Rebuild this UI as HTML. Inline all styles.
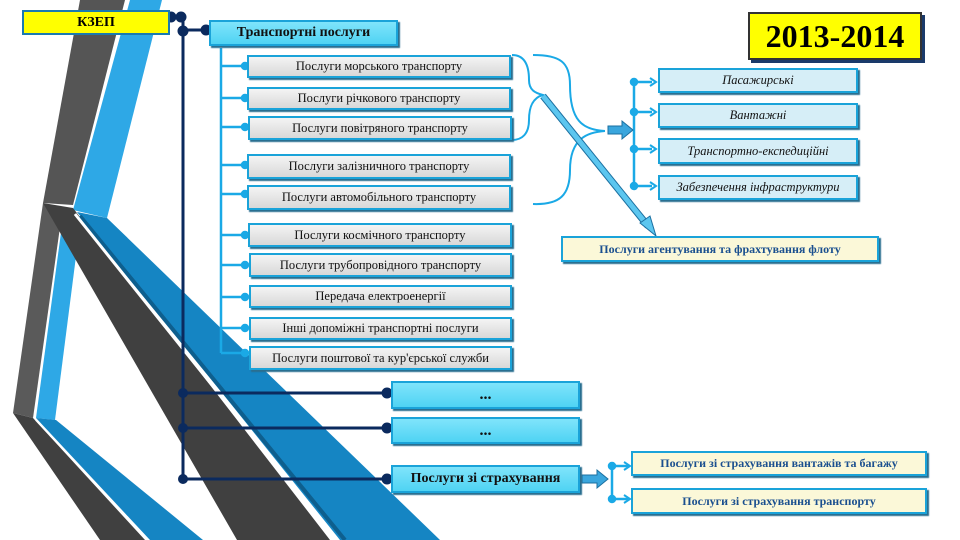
<!DOCTYPE html>
<html><head><meta charset="utf-8">
<style>
body{margin:0;width:960px;height:540px;overflow:hidden;background:#fff;font-family:"Liberation Serif",serif;}
.b{position:absolute;box-sizing:border-box;display:flex;align-items:center;justify-content:center;white-space:nowrap;}
.g{background:linear-gradient(#f4f4f4,#d8d8d8);border:2px solid #1aa3d9;box-shadow:2px 2px 1px #2a6f90;font-size:12.5px;color:#111;}
.c{background:linear-gradient(#7fe4fb,#4fd3f3);border:2px solid #1aa3d9;box-shadow:2px 2px 1px #2a6f90;font-weight:bold;color:#111;}
.l{background:#d6eef7;border:2px solid #1aa3d9;box-shadow:2px 2px 1px #2a6f90;font-style:italic;font-size:12.5px;color:#111;}
.y{background:#fbf8d8;border:2px solid #1aa3d9;box-shadow:2px 2px 1px #2a6f90;font-weight:bold;font-size:12px;color:#1a4f8f;}
</style></head><body>
<svg width="960" height="540" style="position:absolute;left:0;top:0">
<polygon points="80,0 125,0 73,205 43,203" fill="#555"/>
<polygon points="130,0 162,0 107,218 73,210" fill="#2ea8e6"/>
<polygon points="43,203 62,213 33,418 13,413" fill="#5a5a5a"/>
<polygon points="62,225 80,225 55,420 36,418" fill="#2ea8e6"/>
<polygon points="13,413 33,418 145,540 100,540" fill="#404040"/>
<polygon points="36,418 56,420 203,540 150,540" fill="#1585c3"/>
<polygon points="43,203 73,208 330,540 237,540" fill="#404040"/>
<polygon points="77,212 107,218 440,540 340,540" fill="#1585c3"/>
<line x1="80" y1="216" x2="345" y2="540" stroke="#0e5f8e" stroke-width="4"/>
<line x1="75" y1="214" x2="336" y2="540" stroke="#fff" stroke-width="3"/>
<line x1="36" y1="420" x2="148" y2="540" stroke="#fff" stroke-width="2"/>
<g stroke="#0b2a5e" stroke-width="3" fill="#0b2a5e">
<line x1="170" y1="17" x2="183" y2="17"/>
<line x1="183" y1="17" x2="183" y2="479"/>
<line x1="183" y1="30" x2="207" y2="30"/>
<line x1="183" y1="393" x2="390" y2="393"/>
<line x1="183" y1="428" x2="390" y2="428"/>
<line x1="183" y1="479" x2="390" y2="479"/>
<circle cx="171" cy="17" r="4"/><circle cx="181" cy="17" r="4"/>
<circle cx="183" cy="31" r="4"/><circle cx="206" cy="30" r="4"/>
<circle cx="183" cy="393" r="3.5"/><circle cx="387" cy="393" r="4"/>
<circle cx="183" cy="428" r="3.5"/><circle cx="387" cy="428" r="4"/>
<circle cx="183" cy="479" r="3.5"/><circle cx="387" cy="479" r="4"/>
</g>
<g stroke="#1aa9e6" stroke-width="2.5" fill="#1aa9e6">
<line x1="221" y1="48" x2="221" y2="353"/>
<line x1="221" y1="66" x2="246" y2="66"/><circle cx="245" cy="66" r="3"/>
<line x1="221" y1="98" x2="246" y2="98"/><circle cx="245" cy="98" r="3"/>
<line x1="221" y1="127" x2="246" y2="127"/><circle cx="245" cy="127" r="3"/>
<line x1="221" y1="165" x2="246" y2="165"/><circle cx="245" cy="165" r="3"/>
<line x1="221" y1="194" x2="246" y2="194"/><circle cx="245" cy="194" r="3"/>
<line x1="221" y1="235" x2="246" y2="235"/><circle cx="245" cy="235" r="3"/>
<line x1="221" y1="265" x2="246" y2="265"/><circle cx="245" cy="265" r="3"/>
<line x1="221" y1="297" x2="246" y2="297"/><circle cx="245" cy="297" r="3"/>
<line x1="221" y1="328" x2="246" y2="328"/><circle cx="245" cy="328" r="3"/>
<line x1="221" y1="353" x2="246" y2="353"/><circle cx="245" cy="353" r="3"/>
<line x1="634" y1="78" x2="634" y2="187"/>
<line x1="634" y1="82" x2="652" y2="82"/><circle cx="634" cy="82" r="3"/>
<line x1="634" y1="112" x2="652" y2="112"/><circle cx="634" cy="112" r="3"/>
<line x1="634" y1="149" x2="652" y2="149"/><circle cx="634" cy="149" r="3"/>
<line x1="634" y1="186" x2="652" y2="186"/><circle cx="634" cy="186" r="3"/>
<line x1="612" y1="466" x2="612" y2="499"/>
<line x1="612" y1="466" x2="628" y2="466"/><circle cx="612" cy="466" r="3"/>
<line x1="612" y1="499" x2="628" y2="499"/><circle cx="612" cy="499" r="3"/>
</g>
<g fill="none" stroke="#1aa9e6" stroke-width="2">
<polyline points="650,78 656,82 650,86"/><polyline points="650,108 656,112 650,116"/>
<polyline points="650,145 656,149 650,153"/><polyline points="650,182 656,186 650,190"/>
<polyline points="624,462 630,466 624,470"/><polyline points="624,495 630,499 624,503"/>
<path d="M512,55 C526,55 529,68 529,80 C529,90 535,93 543,95 C532,98 529,108 529,120 C529,134 522,140 512,140"/>
<path d="M533,55 C560,55 570,62 570,85 C570,120 582,130 605,131"/>
<path d="M533,204 C560,205 570,195 570,170 C570,138 588,132 605,131"/>
</g>
<polygon points="608,126 622,126 622,121 633,130 622,139 622,134 608,134" fill="#3aa6dd" stroke="#1a6fa0"/>
<polygon points="582,475 597,475 597,470 608,479 597,488 597,483 582,483" fill="#3aa6dd" stroke="#1a6fa0"/>
<line x1="543" y1="96" x2="648" y2="226" stroke="#1a6fa0" stroke-width="7"/>
<line x1="543" y1="96" x2="648" y2="226" stroke="#5cc6ef" stroke-width="5"/>
<polygon points="640,223 656,236 650,216" fill="#5cc6ef" stroke="#1a6fa0"/>
</svg>

<div class="b" style="left:22px;top:10px;width:148px;height:25px;background:#ffff00;border:2px solid #1a7ab0;font-weight:bold;font-size:14px;">КЗЕП</div>
<div class="b c" style="left:209px;top:20px;width:189px;height:26px;font-size:14px;">Транспортні послуги</div>
<div class="b" style="left:748px;top:12px;width:174px;height:48px;background:#ffff00;border:2px solid #333;box-shadow:3px 3px 0 #1a3a6a;font-weight:bold;font-size:32px;font-family:'Liberation Serif',serif;">2013-2014</div>

<div class="b g" style="left:247px;top:55px;width:264px;height:23px;">Послуги морського транспорту</div>
<div class="b g" style="left:247px;top:87px;width:264px;height:23px;">Послуги річкового транспорту</div>
<div class="b g" style="left:248px;top:116px;width:264px;height:24px;">Послуги повітряного транспорту</div>
<div class="b g" style="left:247px;top:154px;width:264px;height:25px;">Послуги залізничного транспорту</div>
<div class="b g" style="left:247px;top:185px;width:264px;height:25px;">Послуги автомобільного транспорту</div>
<div class="b g" style="left:248px;top:223px;width:264px;height:24px;">Послуги космічного транспорту</div>
<div class="b g" style="left:249px;top:253px;width:263px;height:24px;">Послуги трубопровідного транспорту</div>
<div class="b g" style="left:249px;top:285px;width:263px;height:23px;">Передача електроенергії</div>
<div class="b g" style="left:249px;top:317px;width:263px;height:23px;">Інші допоміжні транспортні послуги</div>
<div class="b g" style="left:249px;top:346px;width:263px;height:24px;">Послуги поштової та кур'єрської служби</div>

<div class="b c" style="left:391px;top:381px;width:189px;height:28px;font-size:16px;">...</div>
<div class="b c" style="left:391px;top:417px;width:189px;height:27px;font-size:16px;">...</div>
<div class="b c" style="left:391px;top:465px;width:189px;height:28px;font-size:14px;">Послуги зі страхування</div>

<div class="b l" style="left:658px;top:68px;width:200px;height:25px;">Пасажирські</div>
<div class="b l" style="left:658px;top:103px;width:200px;height:25px;">Вантажні</div>
<div class="b l" style="left:658px;top:138px;width:200px;height:26px;">Транспортно-експедиційні</div>
<div class="b l" style="left:658px;top:175px;width:200px;height:25px;">Забезпечення інфраструктури</div>

<div class="b y" style="left:561px;top:236px;width:318px;height:26px;">Послуги агентування та фрахтування флоту</div>
<div class="b y" style="left:631px;top:451px;width:296px;height:25px;">Послуги зі страхування вантажів та багажу</div>
<div class="b y" style="left:631px;top:488px;width:296px;height:26px;">Послуги зі страхування транспорту</div>
</body></html>
